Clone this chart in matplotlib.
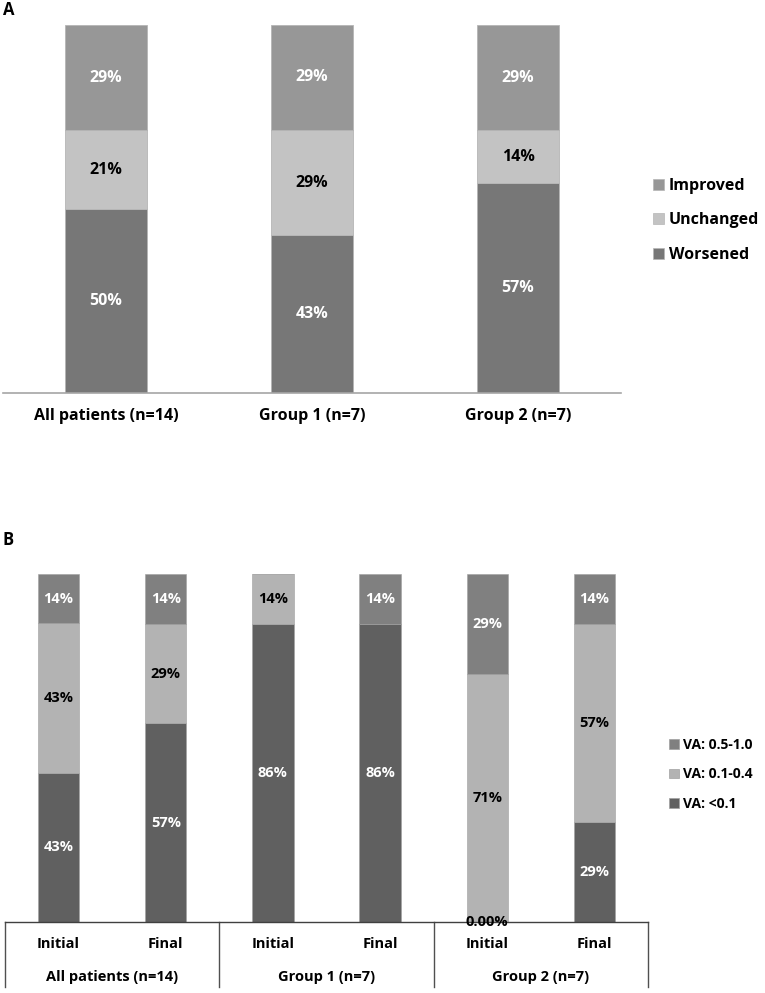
import numpy as np
import matplotlib
matplotlib.use('Agg')
import matplotlib.pyplot as plt
from matplotlib.patches import Patch

plt.rcParams['font.family'] = ['Open Sans', 'DejaVu Sans']
plt.rcParams['font.weight'] = 'bold'

# panel A data (fractions)
groups_a = ['All patients (n=14)', 'Group 1 (n=7)', 'Group 2 (n=7)']
worsened = [0.500, 0.429, 0.571]
unchanged = [0.214, 0.286, 0.143]
improved = [0.286, 0.286, 0.286]

# panel B data
groups_b = ['All patients (n=14)', 'Group 1 (n=7)', 'Group 2 (n=7)']
times_b = ['Initial', 'Final', 'Initial', 'Final', 'Initial', 'Final']
va_low = [0.429, 0.571, 0.857, 0.857, 0.0, 0.286]
va_mid = [0.429, 0.286, 0.143, 0.0, 0.714, 0.571]
va_high = [0.143, 0.143, 0.0, 0.143, 0.286, 0.143]

W, H = 765, 993
fig = plt.figure(figsize=(W / 100, H / 100), dpi=100)

def px_axes(x0, y0, x1, y1):
    # y measured from top in pixels
    return fig.add_axes([x0 / W, 1 - y1 / H, (x1 - x0) / W, (y1 - y0) / H])

# ---------------- Panel A ----------------
ax = px_axes(3, 25, 621, 393)
xa = np.arange(len(groups_a)) + 0.5
cols_a = {'Worsened': '#777777', 'Unchanged': '#c3c3c3', 'Improved': '#979797'}
bottom = np.zeros(len(xa))
for name, vals, tcol in [('Worsened', worsened, 'white'),
                         ('Unchanged', unchanged, 'black'),
                         ('Improved', improved, 'white')]:
    vals = np.array(vals)
    ax.bar(xa, vals, 0.4, bottom=bottom, color=cols_a[name],
           edgecolor='#b5b5b5', linewidth=0.6)
    for xi, b, v in zip(xa, bottom, vals):
        ax.text(xi, b + v / 2, '%d%%' % round(v * 100), ha='center', va='center',
                color=tcol, fontsize=11.5, fontweight='bold')
    bottom += vals
ax.set_xlim(0, 3)
ax.set_ylim(0, 1)
ax.set_yticks([])
ax.set_xticks(xa)
ax.set_xticklabels(groups_a, fontsize=11.5, fontweight='bold')
ax.tick_params(axis='x', length=0, pad=11)
for s in ['top', 'right', 'left']:
    ax.spines[s].set_visible(False)
ax.spines['bottom'].set_color('#a6a6a6')
ax.spines['bottom'].set_linewidth(1.2)

hand_a = [Patch(facecolor=cols_a[k], edgecolor='#b5b5b5', linewidth=0.5)
          for k in ['Improved', 'Unchanged', 'Worsened']]
fig.legend(hand_a, ['Improved', 'Unchanged', 'Worsened'],
           loc='upper left', bbox_to_anchor=(653 / W, 1 - 178 / H),
           frameon=False, fontsize=11.5, handlelength=0.7, handleheight=0.7,
           handletextpad=0.3, labelspacing=1.15, borderpad=0, borderaxespad=0)

fig.text(3 / W, 1 - 10 / H, 'A', fontsize=12, fontweight='bold', va='center', ha='left')
fig.text(3 / W, 1 - 540 / H, 'B', fontsize=12, fontweight='bold', va='center', ha='left')

# ---------------- Panel B ----------------
bx = px_axes(5, 574, 648, 922)
xb = np.arange(len(times_b)) + 0.5
cols_b = {'low': '#606060', 'mid': '#b3b3b3', 'high': '#808080'}
bottom = np.zeros(len(xb))
for key, vals, tcol in [('low', va_low, 'white'),
                        ('mid', va_mid, 'black'),
                        ('high', va_high, 'white')]:
    vals = np.array(vals)
    bx.bar(xb, vals, 0.385, bottom=bottom, color=cols_b[key],
           edgecolor='#a0a0a0', linewidth=0.4)
    for xi, b, v in zip(xb, bottom, vals):
        if v > 0:
            bx.text(xi, b + v / 2, '%d%%' % round(v * 100), ha='center', va='center',
                    color=tcol, fontsize=10.5, fontweight='bold')
    bottom += vals
# zero label shown in the original
bx.text(xb[4], 0.0, '0.00%', ha='center', va='center', color='black',
        fontsize=10.5, fontweight='bold', zorder=5, clip_on=False)

bx.set_xlim(0, 6)
bx.set_ylim(0, 1)
bx.set_xticks([])
bx.set_yticks([])
for s in ['top', 'right', 'left']:
    bx.spines[s].set_visible(False)
bx.spines['bottom'].set_color('#404040')
bx.spines['bottom'].set_linewidth(1.0)

tr = bx.get_xaxis_transform()
depth = 65 / 348.0
for xv in [0, 2, 4, 6]:
    bx.plot([xv, xv], [0, -depth], color='#505050', lw=1.0, transform=tr, clip_on=False)
for xi, t in zip(xb, times_b):
    bx.text(xi, -22 / 348.0, t, transform=tr, ha='center', va='center',
            fontsize=10.5, fontweight='bold')
for gi, g in enumerate(groups_b):
    bx.text(2 * gi + 1, -55 / 348.0, g, transform=tr, ha='center', va='center',
            fontsize=10.5, fontweight='bold')

hand_b = [Patch(facecolor=cols_b[k], edgecolor='#a0a0a0', linewidth=0.5)
          for k in ['high', 'mid', 'low']]
fig.legend(hand_b, ['VA: 0.5-1.0', 'VA: 0.1-0.4', 'VA: <0.1'],
           loc='upper left', bbox_to_anchor=(669 / W, 1 - 738 / H),
           frameon=False, fontsize=10, handlelength=0.7, handleheight=0.7,
           handletextpad=0.3, labelspacing=1.1, borderpad=0, borderaxespad=0)

plt.savefig('out.png', dpi=100)
